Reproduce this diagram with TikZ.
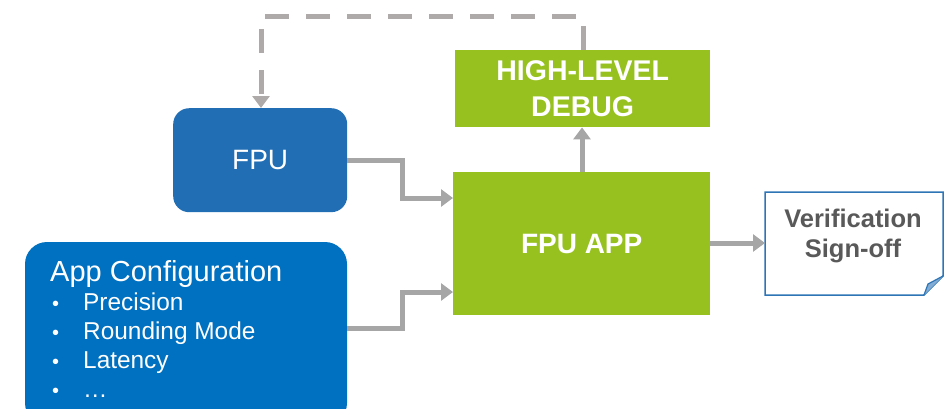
\documentclass[tikz,border=0pt]{standalone}
\usepackage{fontspec}
\setmainfont{Liberation Sans}
\usetikzlibrary{arrows.meta}
\definecolor{fpublue}{RGB}{33,110,180}
\definecolor{cfgblue}{RGB}{0,112,192}
\definecolor{appgreen}{RGB}{151,193,31}
\definecolor{conngray}{RGB}{166,166,166}
\definecolor{dashgray}{RGB}{175,170,170}
\definecolor{textgray}{RGB}{89,89,89}
\definecolor{vborder}{RGB}{46,117,182}
\tikzset{
  bluebox/.style={rounded corners=16pt, inner sep=0pt},
  greenbox/.style={fill=appgreen, draw=none, inner sep=0pt, text=white, font=\fontsize{28}{30}\selectfont\bfseries, align=center},
  conn/.style={draw=conngray, line width=5pt, -{Triangle[length=12pt,width=17pt]}},
  dconn/.style={draw=dashgray, line width=5pt, dash pattern=on 24pt off 17pt, -{Triangle[length=12pt,width=17pt]}},
}
\begin{document}
\begin{tikzpicture}[x=1pt,y=-1pt]
\useasboundingbox (0,0) rectangle (946,408);
% FPU
\node[bluebox, fill=fpublue, minimum width=174pt, minimum height=104pt, anchor=north west, text=white, font=\fontsize{28}{30}\selectfont] (fpu) at (173,108) {FPU};
% App configuration
\begin{scope}
\clip (0,0) rectangle (946,408);
\fill[cfgblue, rounded corners=22pt] (25,242) rectangle (347,425);
\end{scope}
\coordinate (cfg) at (347,328);
\node[anchor=base west, text=white, font=\fontsize{29}{31}\selectfont, inner sep=0pt] (cfgtitle) at (50,281) {App Configuration};
\foreach \t/\yy [count=\i] in {Precision/310, Rounding Mode/339, Latency/368, \dots/397}{
  \node[anchor=base west, text=white, font=\fontsize{20}{22}\selectfont, inner sep=0pt] (b\i) at (52,\yy) {\textbullet};
  \node[anchor=base west, text=white, font=\fontsize{24.4}{26}\selectfont, inner sep=0pt] (t\i) at (83,\yy) {\t};
}
% FPU APP
\node[greenbox, minimum width=257pt, minimum height=143pt, anchor=north west] (app) at (453,172) {FPU APP};
% HIGH-LEVEL DEBUG
\node[greenbox, minimum width=255pt, minimum height=77pt, anchor=north west, font=\fontsize{28.5}{36}\selectfont\bfseries] (dbg) at (455,50) {HIGH-LEVEL\\DEBUG};
% Verification Sign-off
\draw[vborder, line width=1.5pt, fill=white] (765,192) -- (943,192) -- (943,276) -- (924,295) -- (765,295) -- cycle;
\fill[vborder!60!white] (943,276) -- (924,295) -- (928,284) -- cycle;
\draw[vborder, line width=1.2pt] (943,276) -- (928,284) -- (924,295);
\node[text=textgray, font=\fontsize{25.5}{30}\selectfont\bfseries, align=center] (ver) at (853,236) {Verification\\Sign-off};
\coordinate (verin) at (765,243);
% connectors
\draw[conn] (fpu.east |- 0,160) -- (402,160) -- (402,198) -- (app.west |- 0,198);
\draw[conn] (cfg) -- (402,328) -- (402,292) -- (app.west |- 0,292);
\draw[conn] (app.north -| 582,0) -- (dbg.south -| 582,0);
\draw[conn] (app.east |- 0,243) -- (verin);
\draw[dconn] (dbg.north -| 583,0) -- (583,16) -- (261,16) -- (fpu.north -| 261,0);
\end{tikzpicture}
\end{document}
